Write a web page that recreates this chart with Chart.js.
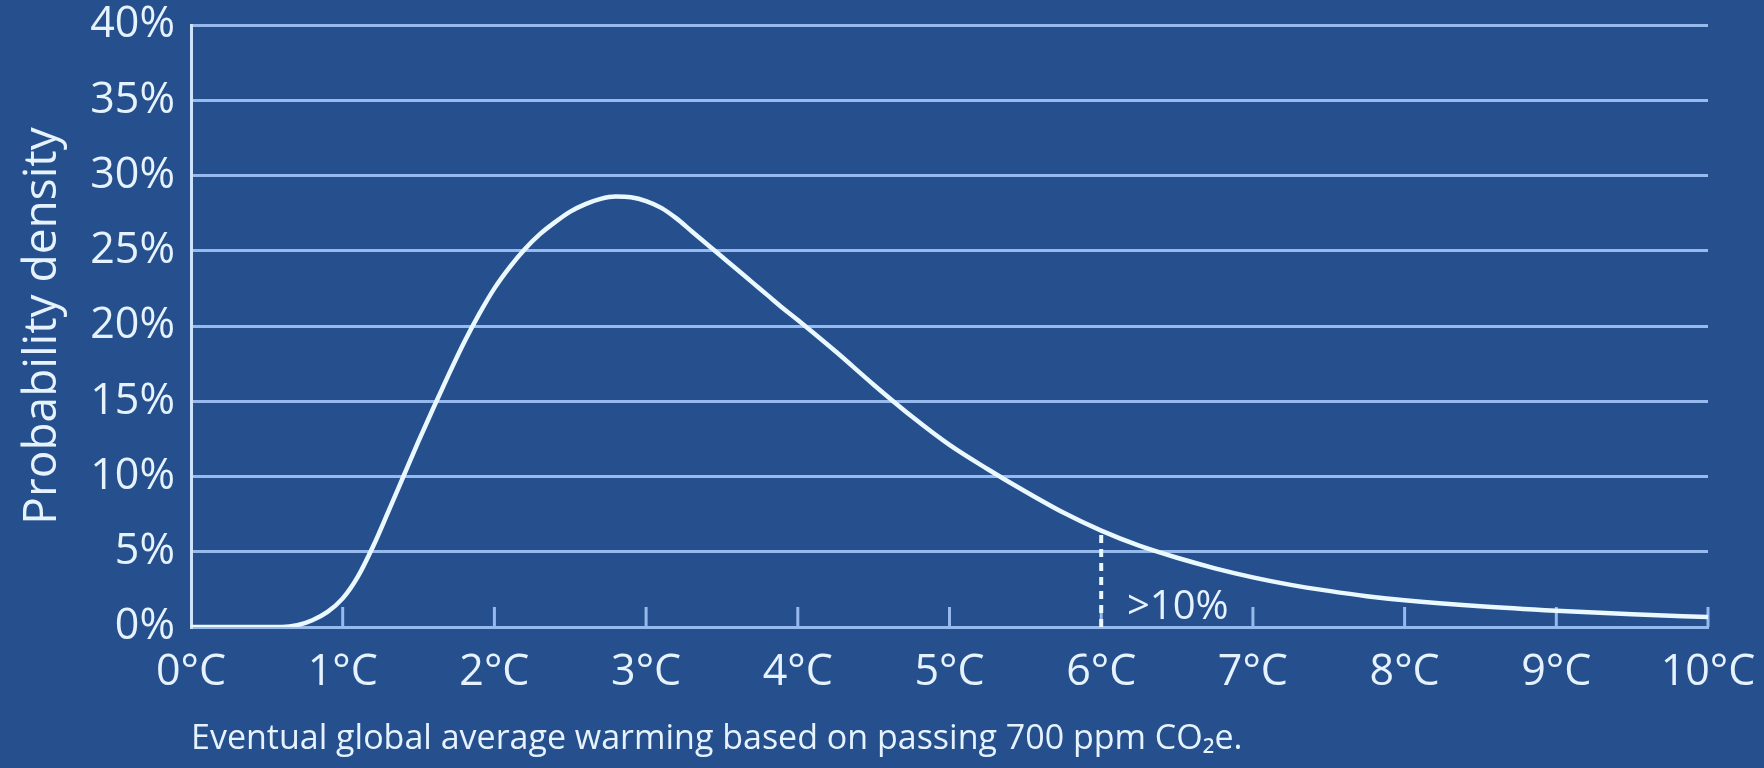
<!DOCTYPE html>
<html>
<head>
<meta charset="utf-8">
<script src="https://cdn.jsdelivr.net/npm/chart.js@4.4.1/dist/chart.umd.min.js"></script>
<style>
  html, body { margin: 0; padding: 0; background: #25508d; }
  #wrap { width: 1764px; height: 768px; position: relative; }
</style>
</head>
<body>
<div id="wrap"><canvas id="c" width="1764" height="768"></canvas></div>
<script>
// ---- data ----
const warmingC   = [0, 0.3, 0.6, 0.7, 0.8, 0.9, 1.0, 1.1, 1.2, 1.3, 1.4, 1.5, 1.6, 1.7, 1.8, 1.9, 2.0, 2.1, 2.2, 2.3, 2.4, 2.5, 2.6, 2.7, 2.8, 2.9, 3.0, 3.1, 3.2, 3.3, 3.4, 3.5, 3.6, 3.7, 3.8, 3.9, 4.0, 4.25, 4.5, 4.75, 5.0, 5.25, 5.5, 5.75, 6.0, 6.25, 6.5, 6.75, 7.0, 7.25, 7.5, 7.75, 8.0, 8.5, 9.0, 9.5, 10];
const densityPct = [0, 0,   0,   0.12, 0.45, 1.0, 1.9, 3.35, 5.35, 7.65, 10.0, 12.35, 14.6, 16.8, 18.9, 20.8, 22.5, 23.9, 25.1, 26.1, 26.9, 27.6, 28.1, 28.45, 28.6, 28.55, 28.3, 27.85, 27.15, 26.3, 25.45, 24.6, 23.75, 22.9, 22.05, 21.2, 20.4, 18.3, 16.1, 14.0, 12.1, 10.5, 9.0, 7.6, 6.4, 5.4, 4.6, 3.9, 3.3, 2.8, 2.4, 2.05, 1.78, 1.38, 1.08, 0.84, 0.66];
const xTickValues = [0, 1, 2, 3, 4, 5, 6, 7, 8, 9, 10];
const yTickValues = [0, 5, 10, 15, 20, 25, 30, 35, 40];
const markerX = 6;
const markerY = 6.4;
const markerLabel = '>10%';
const xTitle = 'Eventual global average warming based on passing 700 ppm CO\u2082e.';
const yTitle = 'Probability density';

// ---- styles ----
const FONT = "'Open Sans', 'Noto Sans', sans-serif";
const TEXT = '#e6f3ff';
const GRID = '#96b9ee';
const AXIS = '#cfe2fb';
const CURVE = '#eaf8ff';

const curveData = warmingC.map((x, i) => ({ x: x, y: densityPct[i] }));
const markerData = [{ x: markerX, y: 0 }, { x: markerX, y: markerY }];

const innerTicks = {
  id: 'innerTicks',
  beforeDatasetsDraw(chart) {
    const xs = chart.scales.x, ys = chart.scales.y, ctx = chart.ctx;
    const base = ys.getPixelForValue(0);
    ctx.save();
    ctx.strokeStyle = GRID;
    ctx.lineWidth = 3;
    xTickValues.forEach(v => {
      if (v === 0) return;
      const px = xs.getPixelForValue(v);
      ctx.beginPath();
      ctx.moveTo(px, base);
      ctx.lineTo(px, base - 20);
      ctx.stroke();
    });
    ctx.restore();
  },
  afterDatasetsDraw(chart) {
    const xs = chart.scales.x, ys = chart.scales.y, ctx = chart.ctx;
    ctx.save();
    ctx.fillStyle = TEXT;
    ctx.font = "40px " + FONT;
    ctx.textAlign = 'left';
    ctx.textBaseline = 'alphabetic';
    ctx.fillText(markerLabel, xs.getPixelForValue(markerX + 0.17), ys.getPixelForValue(0.55));
    ctx.restore();
  }
};

new Chart(document.getElementById('c'), {
  type: 'line',
  data: {
    datasets: [
      {
        data: curveData,
        borderColor: CURVE,
        borderWidth: 4.5,
        pointRadius: 0,
        cubicInterpolationMode: 'monotone',
        fill: false
      },
      {
        data: markerData,
        borderColor: CURVE,
        borderWidth: 4,
        borderDash: [8, 6],
        pointRadius: 0,
        fill: false
      }
    ]
  },
  options: {
    responsive: false,
    animation: false,
    layout: { padding: { top: 25, right: 56, left: 0, bottom: 0 } },
    plugins: { legend: { display: false }, tooltip: { enabled: false } },
    scales: {
      x: {
        type: 'linear',
        min: 0, max: 10,
        afterBuildTicks: s => { s.ticks = xTickValues.map(v => ({ value: v })); },
        afterFit: s => { s.height = 141; s.paddingLeft = 0; s.paddingRight = 0; },
        ticks: {
          color: TEXT,
          font: { family: FONT, size: 43 },
          padding: 20,
          maxRotation: 0,
          callback: v => v + '\u00B0C'
        },
        grid: { display: false, drawTicks: false },
        border: { display: true, color: GRID, width: 3 },
        title: {
          display: true,
          text: xTitle,
          align: 'start',
          color: TEXT,
          font: { family: FONT, size: 34 },
          padding: { top: 0, bottom: 8 }
        }
      },
      y: {
        min: 0, max: 40,
        afterBuildTicks: s => { s.ticks = yTickValues.map(v => ({ value: v })); },
        afterFit: s => { s.width = 191; s.paddingTop = 0; s.paddingBottom = 0; },
        ticks: {
          color: TEXT,
          font: { family: FONT, size: 43 },
          padding: 16,
          callback: v => v + '%'
        },
        grid: { color: GRID, lineWidth: 3, drawTicks: false },
        border: { display: true, color: AXIS, width: 3 },
        title: {
          display: true,
          text: yTitle,
          color: TEXT,
          font: { family: FONT, size: 46 },
          padding: { top: 15, bottom: 0 }
        }
      }
    }
  },
  plugins: [innerTicks]
});
</script>
</body>
</html>
